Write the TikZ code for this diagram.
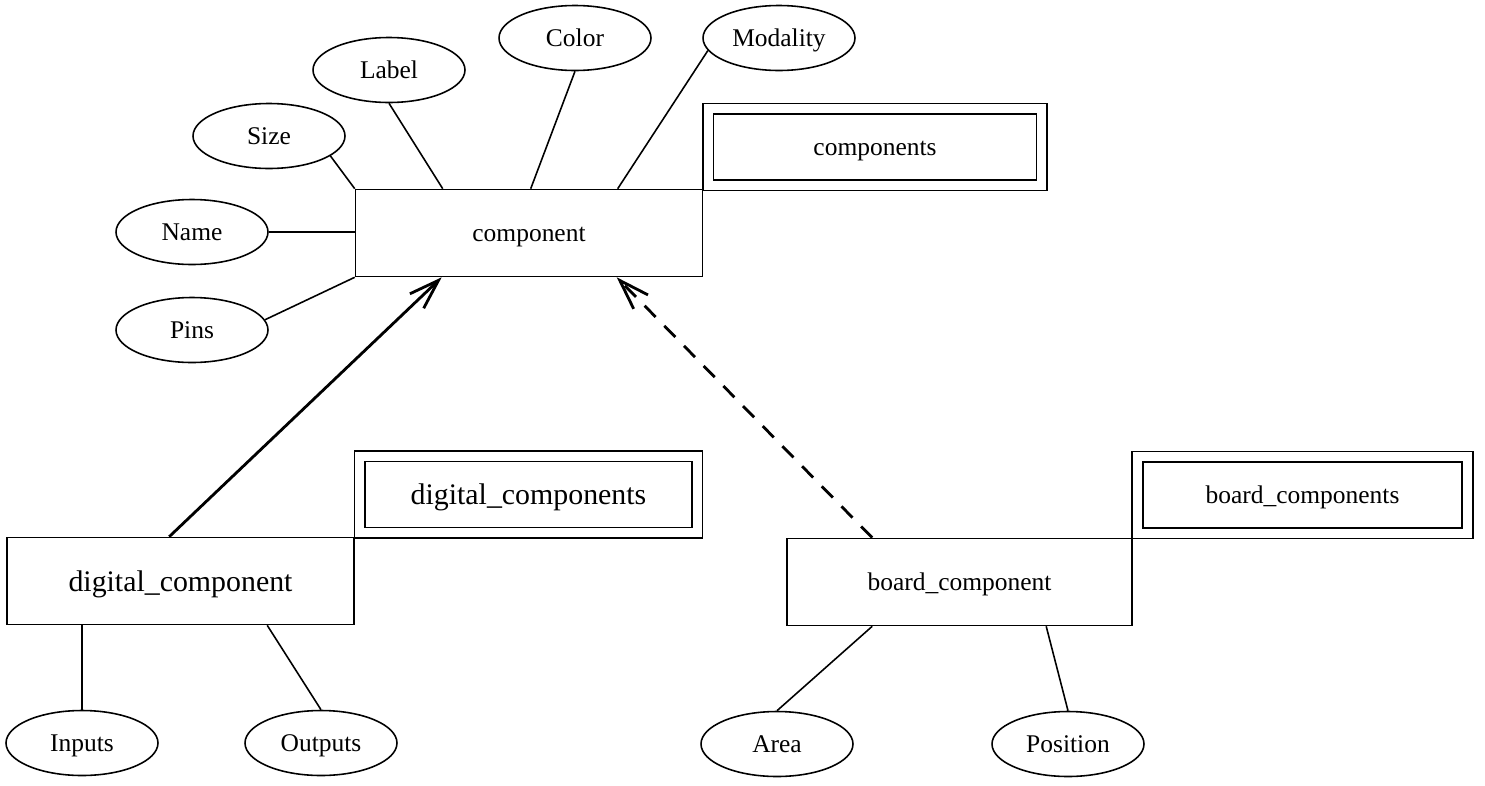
\documentclass[tikz,border=0pt]{standalone}
\usepackage{fontspec}
\setmainfont{Liberation Serif}
\usetikzlibrary{shapes.geometric,arrows.meta}

\tikzset{
  attr/.style={ellipse, draw, line width=0.9pt, minimum width=3.04cm, minimum height=1.3cm, inner sep=0pt, text height=10pt, text depth=0pt, font=\fontsize{14.5}{17}\selectfont},
  entity/.style={rectangle, draw, line width=0.9pt, minimum width=6.94cm, minimum height=1.74cm, inner sep=0pt, text height=10pt, text depth=0pt, font=\fontsize{14.5}{17}\selectfont},
  setbox/.style={rectangle, draw, line width=0.9pt, double, double distance=0.18cm, minimum width=6.67cm, minimum height=1.53cm, inner sep=0pt, text height=10pt, text depth=0pt, font=\fontsize{14.5}{17}\selectfont},
  bigtext/.style={font=\fontsize{17}{20}\selectfont, text height=11.6pt},
  link/.style={line width=0.9pt},
  isa/.style={line width=1.6pt, -{Straight Barb[length=0.6cm,width=0.4cm]}}
}

\begin{document}
\begin{tikzpicture}[x=0.02cm, y=-0.02cm]

\useasboundingbox (0,0) rectangle (1485,785);

% Entities
\node[entity] (comp) at (529,233) {component};
\node[entity, bigtext] (dig) at (180.5,581) {digital\_component};
\node[entity, minimum width=6.9cm] (board) at (959.5,582) {board\_component};

% Sets
\node[setbox] (compset) at (875,147) {components};
\node[setbox, minimum width=6.75cm, bigtext] (digset) at (528.5,494.5) {digital\_components};
\node[setbox, minimum width=6.6cm] (boardset) at (1302.5,495) {board\_components};

% Attributes of component
\node[attr] (size) at (269,136) {Size};
\node[attr] (label) at (389,70) {Label};
\node[attr] (color) at (575,38) {Color};
\node[attr] (modality) at (779,38) {Modality};
\node[attr] (name) at (192,232) {Name};
\node[attr] (pins) at (192,330) {Pins};

% Attributes of the subtypes
\node[attr] (inputs) at (82,743) {Inputs};
\node[attr] (outputs) at (321,743) {Outputs};
\node[attr] (area) at (777,744) {Area};
\node[attr] (position) at (1068,744) {Position};

% Links
\draw[link] (size.-18) -- (comp.north west);
\draw[link] (label.south) -- ([xshift=1.76cm]comp.north west);
\draw[link] (color.south) -- ([xshift=3.52cm]comp.north west);
\draw[link] (modality.190) -- ([xshift=5.26cm]comp.north west);
\draw[link] (name.east) -- (name.east -| comp.west);
\draw[link] (pins.8) -- (comp.south west);

\draw[link] (inputs.north) -- (inputs.north |- dig.south);
\draw[link] (outputs.north) -- ([xshift=5.22cm]dig.south west);
\draw[link] (area.north) -- ([xshift=1.72cm]board.south west);
\draw[link] (position.north) -- ([xshift=5.2cm]board.south west);

% Subtype arrows
\draw[isa] ([xshift=3.26cm]dig.north west) -- ([xshift=1.74cm]comp.south west);
\draw[isa, dash pattern=on 9pt off 7pt] ([xshift=1.72cm]board.north west) -- ([xshift=5.24cm]comp.south west);

\end{tikzpicture}
\end{document}
